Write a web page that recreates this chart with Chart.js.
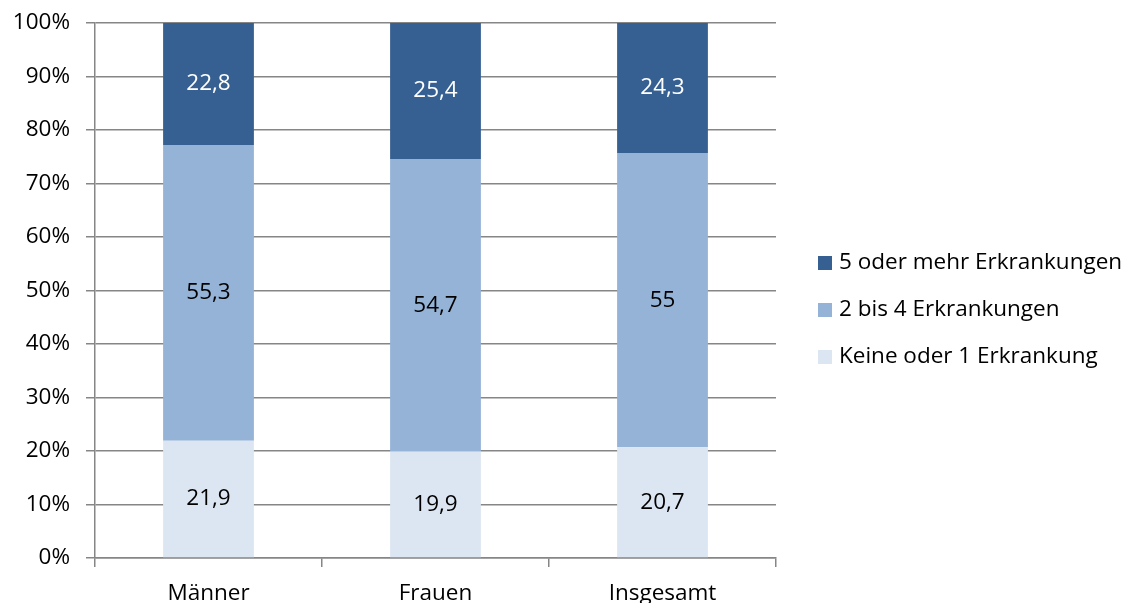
<!DOCTYPE html>
<html>
<head>
<meta charset="utf-8">
<script src="https://cdn.jsdelivr.net/npm/chart.js@4"></script>
<style>
html,body{margin:0;padding:0;background:#fff;}
#wrap{width:1135px;height:603px;}
</style>
</head>
<body>
<div id="wrap"><canvas id="c" width="1135" height="603"></canvas></div>
<script>
const categories = ["Männer", "Frauen", "Insgesamt"];
const seriesNames = ["Keine oder 1 Erkrankung", "2 bis 4 Erkrankungen", "5 oder mehr Erkrankungen"];
const keineOder1 = [21.9, 19.9, 20.7];
const zweiBis4 = [55.3, 54.7, 55];
const fuenfOderMehr = [22.8, 25.4, 24.3];
const yTicks = [0, 10, 20, 30, 40, 50, 60, 70, 80, 90, 100];

const FONT = "'Open Sans', sans-serif";
const FSIZE = 22.5;
const colors = ["#DCE6F2", "#95B3D7", "#376092"];
const labelColors = ["#000000", "#000000", "#FFFFFF"];
const gridColor = "#868686";

const dataLabels = {
  id: 'dataLabels',
  afterDatasetsDraw(chart) {
    const ctx = chart.ctx;
    ctx.save();
    ctx.font = FSIZE + "px " + FONT;
    ctx.textAlign = 'center';
    ctx.textBaseline = 'middle';
    chart.data.datasets.forEach((ds, i) => {
      const meta = chart.getDatasetMeta(i);
      meta.data.forEach((bar, j) => {
        const v = ds.data[j];
        const y = (bar.y + bar.base) / 2;
        ctx.fillStyle = labelColors[i];
        ctx.fillText(String(v).replace('.', ','), bar.x, y);
      });
    });
    ctx.restore();
  }
};

const customLegend = {
  id: 'customLegend',
  afterDraw(chart) {
    const ctx = chart.ctx;
    ctx.save();
    ctx.font = FSIZE + "px " + FONT;
    ctx.textAlign = 'left';
    ctx.textBaseline = 'middle';
    const ds = chart.data.datasets.slice().reverse();
    const x0 = 818, y0 = 263, step = 47, box = 14;
    ds.forEach((d, k) => {
      const y = y0 + k * step;
      ctx.fillStyle = d.backgroundColor;
      ctx.fillRect(x0, y - box / 2, box, box);
      ctx.fillStyle = "#000";
      ctx.fillText(d.label, x0 + box + 7, y);
    });
    ctx.restore();
  }
};

const seriesData = [keineOder1, zweiBis4, fuenfOderMehr];

new Chart(document.getElementById('c'), {
  type: 'bar',
  data: {
    labels: categories,
    datasets: seriesNames.map((n, i) => ({
      label: n,
      data: seriesData[i],
      backgroundColor: colors[i],
      borderWidth: 0,
      barPercentage: 0.4,
      categoryPercentage: 1.0
    }))
  },
  options: {
    responsive: false,
    animation: false,
    devicePixelRatio: 1,
    layout: { padding: { top: 23, right: 359, left: 0, bottom: 0 } },
    plugins: { legend: { display: false }, tooltip: { enabled: false } },
    scales: {
      x: {
        stacked: true,
        offset: true,
        grid: { offset: true, drawOnChartArea: false, drawTicks: true, tickLength: 9, color: gridColor, lineWidth: 1.5 },
        border: { color: gridColor, width: 1.5 },
        ticks: { color: '#000', font: { family: FONT, size: FSIZE }, padding: 13, maxRotation: 0 },
        afterFit(scale) { scale.height = 45; scale.paddingLeft = 0; scale.paddingRight = 0; }
      },
      y: {
        stacked: true,
        min: 0, max: 100,
        afterBuildTicks(scale) { scale.ticks = yTicks.map(v => ({ value: v })); },
        grid: { color: gridColor, lineWidth: 1.5, tickLength: 9 },
        border: { color: gridColor, width: 1.5 },
        ticks: { color: '#000', font: { family: FONT, size: FSIZE }, padding: 16, callback: v => v + '%' },
        afterFit(scale) { scale.width = 95; scale.paddingTop = 0; scale.paddingBottom = 0; }
      }
    }
  },
  plugins: [dataLabels, customLegend]
});
</script>
</body>
</html>
